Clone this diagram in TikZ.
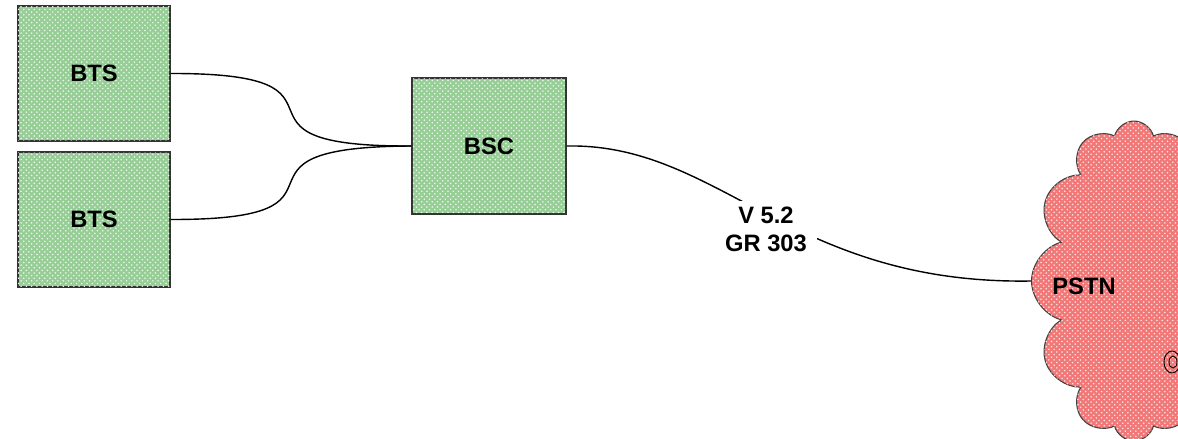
\documentclass[tikz,border=0pt]{standalone}
\usepackage{fontspec}
\setmainfont{Liberation Sans}
\usepackage{tikz}
\usetikzlibrary{shapes.symbols, patterns}

\definecolor{boxgreen}{RGB}{150,206,150}
\definecolor{cloudred}{RGB}{242,120,120}

\begin{document}
\begin{tikzpicture}[x=0.02cm, y=-0.02cm,
    % Styles
    station/.style={
        rectangle,
        draw=black!80,
        line width=0.6pt,
        fill=boxgreen,
        postaction={pattern=crosshatch dots, pattern color=white!85!boxgreen},
        minimum width=3.04cm,
        minimum height=2.7cm,
        font=\bfseries\fontsize{13.5}{15}\selectfont
    },
    network/.style={
        cloud,
        cloud puffs=12,
        cloud ignores aspect,
        draw=black!75,
        line width=0.6pt,
        fill=cloudred,
        postaction={pattern=crosshatch dots, pattern color=white!80!cloudred},
        minimum width=4.1cm,
        minimum height=6.4cm
    },
    link/.style={line width=0.8pt},
    tag/.style={font=\bfseries\fontsize{13.5}{16}\selectfont, align=center}
]
\useasboundingbox (0,0) rectangle (1178,439);
\clip (0,0) rectangle (1178,439);

% Base stations and controller
\node[station] (bts1) at (94,73.5) {BTS};
\node[station] (bts2) at (94,219.5) {BTS};
\node[station, minimum width=3.08cm, minimum height=2.72cm] (bsc) at (489,146) {BSC};

% Public network
\node[network] (cloud) at (1134,281) {};
\draw[line width=0.5pt] (1172,362) ellipse (8 and 11);
\draw[line width=0.5pt] (1173,362) ellipse (4 and 6);
\node[font=\bfseries\fontsize{13.5}{15}\selectfont] (pstn) at (1084,286) {PSTN};

% Links
\draw[link] (bts1.east) .. controls (380,73) and (200,147) .. (bsc.west);
\draw[link] (bts2.east) .. controls (380,220) and (200,147) .. (bsc.west);
\draw[link] (bsc.east) .. controls (720,143) and (790,285) .. (cloud.west);
\node[tag, fill=white, inner xsep=6pt, inner ysep=3pt] (iface) at (766,229) {V 5.2\\GR 303};

\end{tikzpicture}
\end{document}
